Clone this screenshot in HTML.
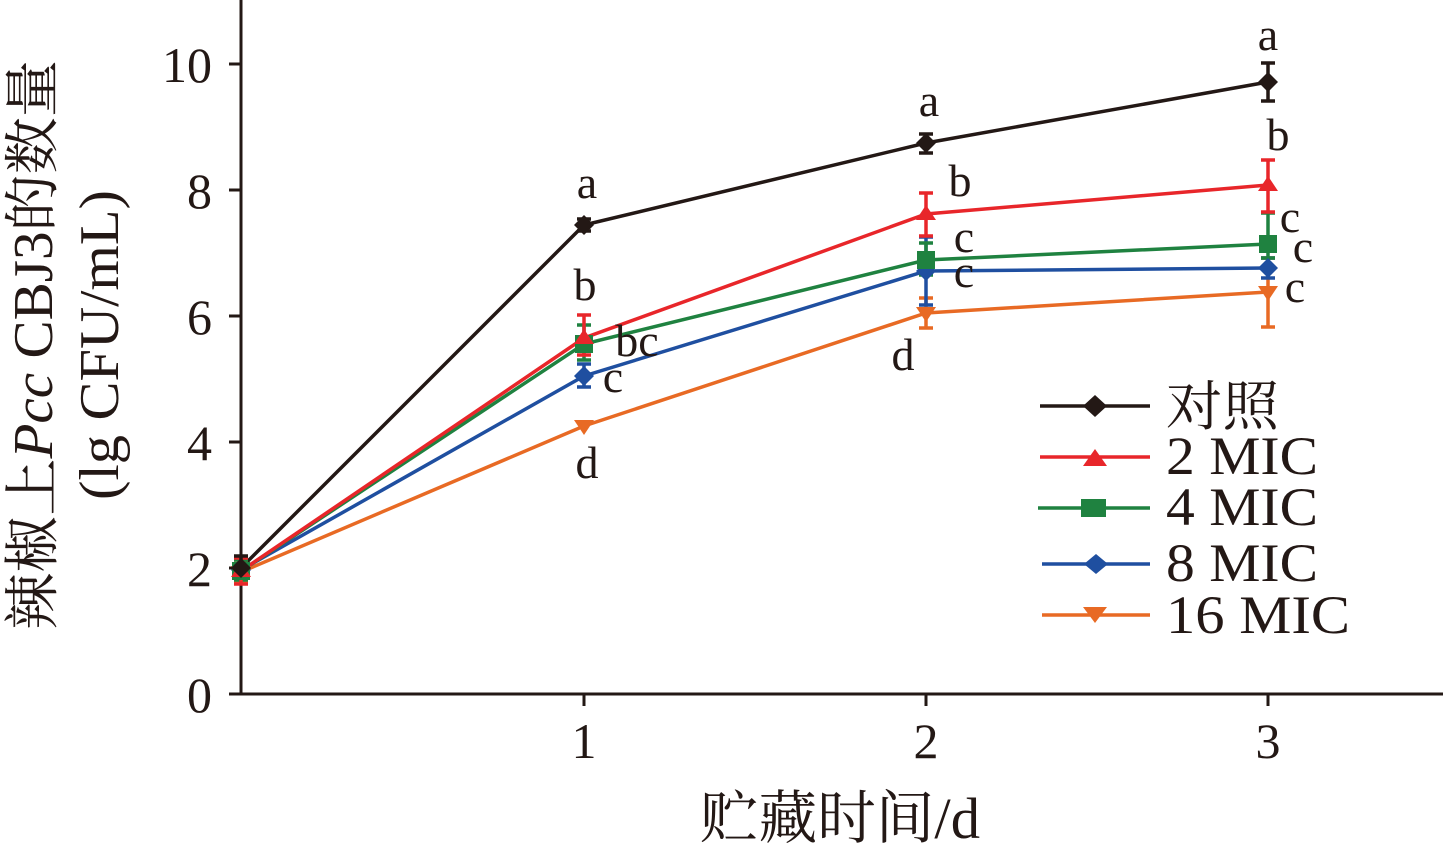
<!DOCTYPE html>
<html><head><meta charset="utf-8"><style>html,body{margin:0;padding:0;background:#fff}svg{display:block}</style></head>
<body>
<svg width="1443" height="845" viewBox="0 0 1443 845" xmlns="http://www.w3.org/2000/svg" font-family="'Liberation Serif','Noto Serif CJK SC',serif" fill="#231815">
<g stroke="#231815" stroke-width="3" fill="none">
<line x1="241" y1="0" x2="241" y2="695"/>
<line x1="240" y1="694" x2="1443" y2="694"/>
<line x1="229" y1="64" x2="241" y2="64"/><line x1="229" y1="190" x2="241" y2="190"/><line x1="229" y1="316" x2="241" y2="316"/><line x1="229" y1="442" x2="241" y2="442"/><line x1="229" y1="568" x2="241" y2="568"/><line x1="229" y1="694" x2="241" y2="694"/>
<line x1="584" y1="694" x2="584" y2="706"/><line x1="926" y1="694" x2="926" y2="706"/><line x1="1268" y1="694" x2="1268" y2="706"/>
</g>
<g font-size="50" text-anchor="end">
<text x="212" y="82">10</text><text x="212" y="208">8</text><text x="212" y="334">6</text><text x="212" y="460">4</text><text x="212" y="586">2</text><text x="212" y="712">0</text>
</g>
<g font-size="50" text-anchor="middle">
<text x="584" y="758">1</text><text x="926" y="758">2</text><text x="1268" y="758">3</text>
</g>
<text x="840" y="838" font-size="58" text-anchor="middle" textLength="280" lengthAdjust="spacingAndGlyphs">贮藏时间/d</text>
<text transform="translate(52,345) rotate(-90)" font-size="56" text-anchor="middle" textLength="570" lengthAdjust="spacingAndGlyphs">辣椒上<tspan font-style="italic">Pcc</tspan> CBJ3的数量</text>
<text transform="translate(118,345) rotate(-90)" font-size="56" text-anchor="middle" textLength="310" lengthAdjust="spacingAndGlyphs">(lg CFU/mL)</text>
<g fill="none" stroke-width="3.5">
<polyline stroke="#e86a24" points="241,572 584,426 926,313 1268,292"/>
<polyline stroke="#1f4fa0" points="241,570 584,376 926,271 1268,268"/>
<polyline stroke="#1f8240" points="241,571 584,344 926,260 1268,244"/>
<polyline stroke="#e8262a" points="241,571 584,338 926,214 1268,185"/>
<polyline stroke="#231815" points="241,568 584,225 926,143 1268,82"/>
</g>
<g stroke-width="3.5">
<g stroke="#e86a24"><path d="M241 560V582M234 560H248M234 582H248M926 298V328M919 298H933M919 328H933M1268 258V327M1261 258H1275M1261 327H1275"/></g>
<g stroke="#1f4fa0"><path d="M584 364V387M577 364H591M577 387H591M926 237V305M919 237H933M919 305H933M1268 258V278M1261 258H1275M1261 278H1275"/></g>
<g stroke="#1f8240"><path d="M241 560V580M234 560H248M234 580H248M584 325V360M577 325H591M577 360H591M926 243V275M919 243H933M919 275H933M1268 213V258M1261 213H1275M1261 258H1275"/></g>
<g stroke="#e8262a"><path d="M241 558V584M234 558H248M234 584H248M584 315V355M577 315H591M577 355H591M926 193V236M919 193H933M919 236H933M1268 160V212M1261 160H1275M1261 212H1275"/></g>
<g stroke="#231815"><path d="M241 556V578M234 556H248M234 578H248M584 219V231M577 219H591M577 231H591M926 134V153M919 134H933M919 153H933M1268 63V101M1261 63H1275M1261 101H1275"/></g>
</g>
<g fill="#e86a24"><path d="M231 566H251L241 581Z M574 420H594L584 435Z M916 307H936L926 322Z M1258 286H1278L1268 301Z"/></g>
<g fill="#1f4fa0"><path d="M241 560L251 570L241 580L231 570Z M584 366L594 376L584 386L574 376Z M926 261L936 271L926 281L916 271Z M1268 258L1278 268L1268 278L1258 268Z"/></g>
<g fill="#1f8240"><rect x="232" y="562" width="18" height="18"/><rect x="575" y="335" width="18" height="18"/><rect x="917" y="251" width="18" height="18"/><rect x="1259" y="235" width="18" height="18"/></g>
<g fill="#e8262a"><path d="M231 577H251L241 562Z M574 344H594L584 329Z M916 220H936L926 205Z M1258 191H1278L1268 176Z"/></g>
<g fill="#231815"><path d="M241 558L251 568L241 578L231 568Z M584 215L594 225L584 235L574 225Z M926 133L936 143L926 153L916 143Z M1268 72L1278 82L1268 92L1258 82Z"/></g>
<g font-size="46" text-anchor="middle">
<text x="587" y="198">a</text><text x="929" y="116">a</text><text x="1268" y="50">a</text>
<text x="585" y="300">b</text><text x="637" y="356">bc</text><text x="613" y="392">c</text><text x="587" y="478">d</text>
<text x="960" y="196">b</text><text x="964" y="252">c</text><text x="964" y="287">c</text><text x="903" y="370">d</text>
<text x="1278" y="150">b</text><text x="1290" y="232">c</text><text x="1303" y="262">c</text><text x="1295" y="302">c</text>
</g>
<g stroke-width="3.5">
<line x1="1040" y1="406" x2="1150" y2="406" stroke="#231815"/><path d="M1095 395L1107 406L1095 417L1083 406Z" fill="#231815"/>
<line x1="1040" y1="457" x2="1150" y2="457" stroke="#e8262a"/><path d="M1083 466H1107L1095 449Z" fill="#e8262a"/>
<line x1="1038" y1="508" x2="1150" y2="508" stroke="#1f8240"/><rect x="1081" y="499" width="25" height="18" fill="#1f8240"/>
<line x1="1042" y1="564" x2="1150" y2="564" stroke="#1f4fa0"/><path d="M1096 554L1108 564L1096 574L1084 564Z" fill="#1f4fa0"/>
<line x1="1042" y1="615" x2="1150" y2="615" stroke="#e86a24"/><path d="M1083 607H1107L1095 623Z" fill="#e86a24"/>
</g>
<g font-size="54">
<text x="1166" y="425" textLength="113" lengthAdjust="spacingAndGlyphs">对照</text>
<text x="1166" y="474" textLength="152" lengthAdjust="spacingAndGlyphs">2 MIC</text>
<text x="1166" y="525" textLength="152" lengthAdjust="spacingAndGlyphs">4 MIC</text>
<text x="1166" y="581" textLength="152" lengthAdjust="spacingAndGlyphs">8 MIC</text>
<text x="1166" y="633" textLength="184" lengthAdjust="spacingAndGlyphs">16 MIC</text>
</g>
</svg>
</body></html>
